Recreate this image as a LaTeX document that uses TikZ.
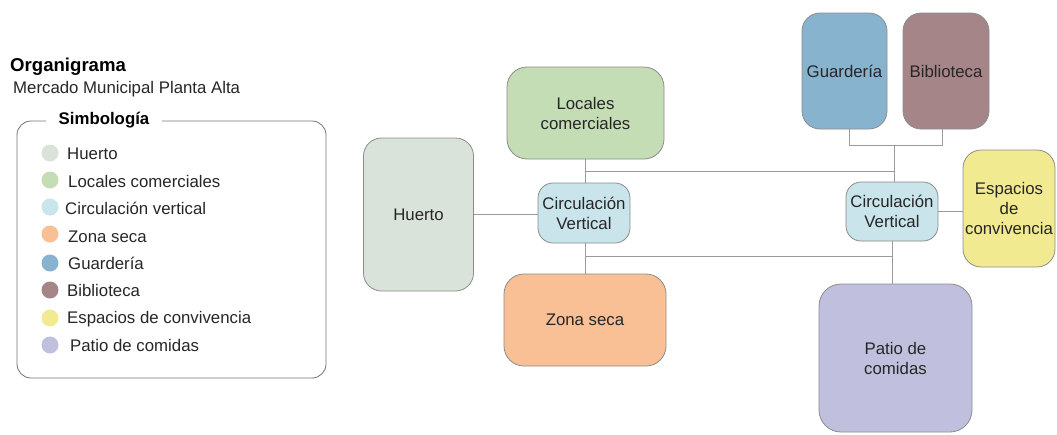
\documentclass[tikz,border=0pt]{standalone}
\usepackage{fontspec}
\setmainfont{Liberation Sans}
\definecolor{cHuerto}{HTML}{D9E3DA}
\definecolor{cLocales}{HTML}{C4DDB5}
\definecolor{cCirc}{HTML}{C9E4EA}
\definecolor{cZona}{HTML}{F9BF95}
\definecolor{cGuard}{HTML}{88B3CF}
\definecolor{cBibl}{HTML}{A68589}
\definecolor{cEsp}{HTML}{F2EA91}
\definecolor{cPatio}{HTML}{C0C0DE}
\definecolor{cLine}{HTML}{9A9A9A}
\definecolor{cBorder}{HTML}{8C8C8C}
\begin{document}
\begin{tikzpicture}[x=1pt,y=-1pt,
  box/.style={draw=cBorder, line width=0.8pt, align=center, inner sep=0pt,
    font=\fontsize{16.8}{20}\selectfont, text=black!85},
  conn/.style={draw=cLine, line width=0.9pt},
  dot/.style={circle, minimum size=17pt, inner sep=0pt},
  legtext/.style={anchor=base west, inner sep=0pt, font=\fontsize{16.8}{20}\selectfont, text=black!85}]
\useasboundingbox (0,0) rectangle (1057,434);

% Title
\node[anchor=base west, inner sep=0pt, font=\bfseries\fontsize{18.6}{22}\selectfont] (title) at (10,71) {Organigrama};
\node[anchor=base west, inner sep=0pt, font=\fontsize{16.8}{20}\selectfont, text=black!85] (subtitle) at (13,93) {Mercado Municipal Planta Alta};

% Legend box
\draw[draw=black!55, line width=0.8pt, rounded corners=14pt] (17,121) rectangle (326,378);
\node[fill=white, inner xsep=13pt, inner ysep=2pt, font=\bfseries\fontsize{16.8}{20}\selectfont] (legtitle) at (104,120) {Simbología};

\node[dot, fill=cHuerto] (d1) at (50,153) {};
\node[legtext] (l1) at (67,159) {Huerto};
\node[dot, fill=cLocales] (d2) at (50,180) {};
\node[legtext] (l2) at (68,187) {Locales comerciales};
\node[dot, fill=cCirc] (d3) at (50,207) {};
\node[legtext] (l3) at (65,214) {Circulación vertical};
\node[dot, fill=cZona] (d4) at (50,234) {};
\node[legtext] (l4) at (68,242) {Zona seca};
\node[dot, fill=cGuard] (d5) at (50,263) {};
\node[legtext] (l5) at (68,269) {Guardería};
\node[dot, fill=cBibl] (d6) at (50,290) {};
\node[legtext] (l6) at (67,296) {Biblioteca};
\node[dot, fill=cEsp] (d7) at (50,318) {};
\node[legtext] (l7) at (67,323) {Espacios de convivencia};
\node[dot, fill=cPatio] (d8) at (50,345) {};
\node[legtext] (l8) at (70,351) {Patio de comidas};

% Diagram nodes
\node[box, fill=cHuerto, rounded corners=18pt, minimum width=110pt, minimum height=153pt] (huerto) at (418.5,214.5) {Huerto};
\node[box, fill=cLocales, rounded corners=20pt, minimum width=157pt, minimum height=92pt] (locales) at (585.5,113) {Locales\\comerciales};
\node[box, fill=cCirc, rounded corners=15pt, minimum width=92pt, minimum height=60pt] (c1) at (584,213) {Circulación\\Vertical};
\node[box, fill=cZona, rounded corners=20pt, minimum width=162pt, minimum height=92pt] (zona) at (585,320) {Zona seca};

\node[box, fill=cGuard, rounded corners=18pt, minimum width=85pt, minimum height=116pt] (gua) at (844.5,71) {Guardería};
\node[box, fill=cBibl, rounded corners=18pt, minimum width=86pt, minimum height=116pt] (bib) at (946,71) {Biblioteca};
\node[box, fill=cCirc, rounded corners=15pt, minimum width=92pt, minimum height=59pt] (c2) at (892,211.5) {Circulación\\Vertical};
\node[box, fill=cEsp, rounded corners=18pt, minimum width=92pt, minimum height=117pt] (esp) at (1009,208.5) {Espacios\\de\\convivencia};
\node[box, fill=cPatio, rounded corners=22pt, minimum width=153pt, minimum height=148pt] (patio) at (895.5,358) {Patio de\\comidas};

% Junction coordinates
\coordinate (jt1) at (585,171);
\coordinate (jt2) at (894,171);
\coordinate (jb1) at (585,256);
\coordinate (jb2) at (892,256);
\coordinate (br) at (894,145);
\coordinate (brL) at (849,145);
\coordinate (brR) at (942,145);

% Connectors
\draw[conn] (locales.south -| jt1) -- (c1.north -| jt1);
\draw[conn] (jt1) -- (jt2);
\draw[conn] (huerto.east) -- (c1.west |- huerto.east);
\draw[conn] (c1.south -| jb1) -- (zona.north -| jb1);
\draw[conn] (jb1) -- (jb2);
\draw[conn] (gua.south -| brL) -- (brL) -- (brR) -- (bib.south -| brR);
\draw[conn] (br) -- (c2.north -| br);
\draw[conn] (c2.east) -- (esp.west |- c2.east);
\draw[conn] (c2.south -| jb2) -- (patio.north -| jb2);
\end{tikzpicture}
\end{document}
